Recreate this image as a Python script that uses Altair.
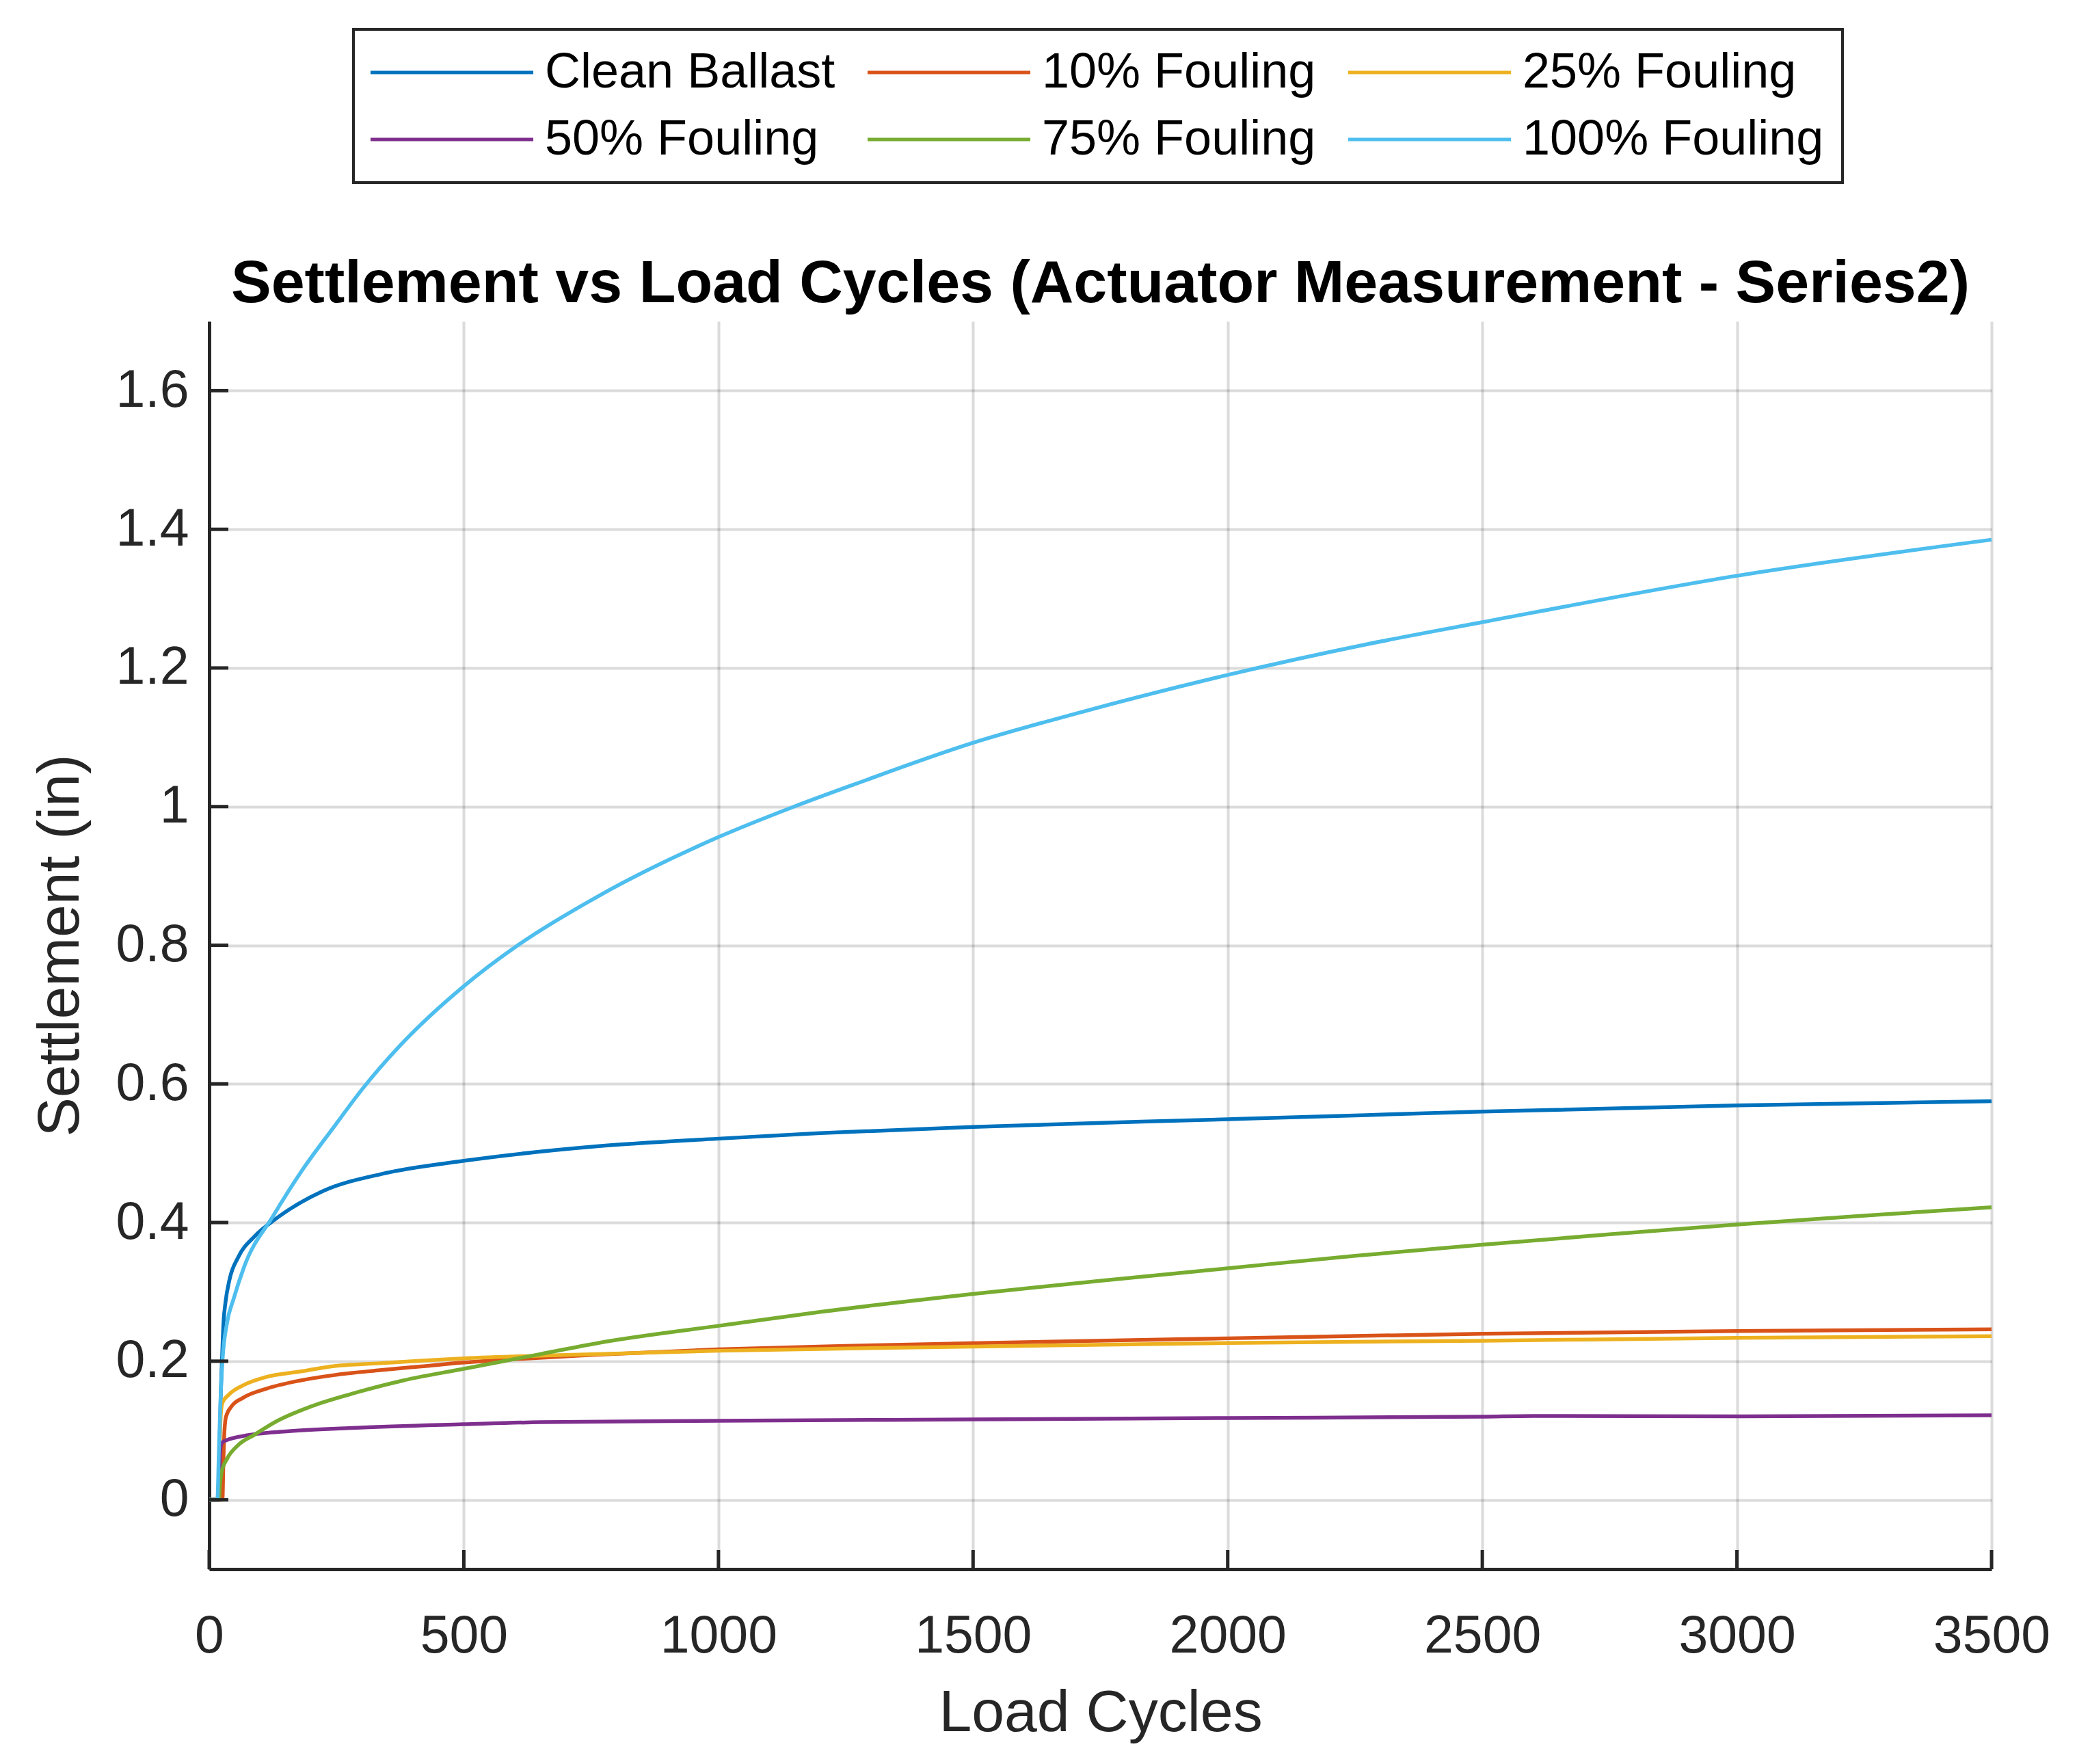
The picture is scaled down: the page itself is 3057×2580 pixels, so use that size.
import altair as alt
import pandas as pd

series_names = ["Clean Ballast", "10% Fouling", "25% Fouling", "50% Fouling", "75% Fouling", "100% Fouling"]
colors = ["#0072BD", "#D95319", "#EDB120", "#7E2F8E", "#77AC30", "#4DBEEE"]

clean_x = [0, 18, 21, 23, 25, 28, 32, 40, 57, 89, 130, 222, 338, 500, 762, 1000, 1200, 1500, 2000, 2272, 2500, 3000, 3500]
clean_y = [0, 0, 0.10, 0.16, 0.20, 0.255, 0.285, 0.318, 0.35, 0.38, 0.405, 0.445, 0.470, 0.489, 0.510, 0.521, 0.529, 0.538, 0.549, 0.555, 0.560, 0.569, 0.575]

f10_x = [0, 26, 28, 30, 33, 44, 66, 111, 178, 246, 335, 425, 500, 604, 750, 1000, 1250, 1500, 2000, 2500, 3000, 3500]
f10_y = [0, 0, 0.06, 0.10, 0.12, 0.135, 0.147, 0.16, 0.172, 0.18, 0.187, 0.193, 0.198, 0.203, 0.209, 0.217, 0.222, 0.226, 0.233, 0.2395, 0.2434, 0.246]

f25_x = [0, 19, 21, 23, 26, 39, 66, 111, 178, 246, 335, 425, 500, 650, 800, 1000, 1500, 2000, 2500, 3000, 3500]
f25_y = [0, 0, 0.09, 0.125, 0.14, 0.152, 0.165, 0.177, 0.185, 0.193, 0.197, 0.201, 0.204, 0.208, 0.211, 0.215, 0.221, 0.2262, 0.2295, 0.2336, 0.236]

f50_x = [0, 19, 21, 23, 28, 66, 156, 290, 500, 650, 1000, 1500, 2000, 2500, 2600, 3000, 3500]
f50_y = [0, 0, 0.06, 0.079, 0.084, 0.092, 0.099, 0.104, 0.109, 0.112, 0.114, 0.116, 0.118, 0.12, 0.121, 0.1205, 0.122]

f75_x = [0, 19, 21, 24, 35, 57, 89, 134, 201, 290, 380, 500, 649, 762, 1000, 1200, 1500, 1750, 2000, 2250, 2500, 2750, 3000, 3250, 3500]
f75_y = [0, 0, 0.02, 0.039, 0.059, 0.079, 0.094, 0.114, 0.135, 0.155, 0.172, 0.189, 0.21, 0.226, 0.251, 0.271, 0.297, 0.316, 0.334, 0.352, 0.368, 0.383, 0.397, 0.41, 0.422]

f100_x = [0, 16, 19, 22, 26, 35, 48, 68, 126, 184, 245, 299, 377, 500, 608, 762, 1000, 1145, 1274, 1500, 1701, 2000, 2272, 2500, 3000, 3500]
f100_y = [0, 0, 0.07, 0.14, 0.20, 0.255, 0.29, 0.335, 0.41, 0.477, 0.538, 0.591, 0.657, 0.741, 0.801, 0.870, 0.956, 0.999, 1.034, 1.092, 1.134, 1.190, 1.234, 1.266, 1.333, 1.385]

x_ticks = [0, 500, 1000, 1500, 2000, 2500, 3000, 3500]
y_ticks = [0, 0.2, 0.4, 0.6, 0.8, 1.0, 1.2, 1.4, 1.6]

all_x = [clean_x, f10_x, f25_x, f50_x, f75_x, f100_x]
all_y = [clean_y, f10_y, f25_y, f50_y, f75_y, f100_y]

rows = []
for name, xs, ys in zip(series_names, all_x, all_y):
    for i, (xv, yv) in enumerate(zip(xs, ys)):
        rows.append({"series": name, "cycles": xv, "settlement": yv, "idx": i})
df = pd.DataFrame(rows)

W, H = 2607, 1825
FONT = "Liberation Sans"
TXT = "#262626"

xscale = alt.Scale(domain=[0, 3500], nice=False, zero=False)
yscale = alt.Scale(domain=[-0.1, 1.7], nice=False, zero=False)

lines = alt.Chart(df).mark_line(strokeWidth=5.5, interpolate="monotone").encode(
    x=alt.X("cycles:Q", scale=xscale,
            axis=alt.Axis(values=x_ticks, format="d", title="Load Cycles",
                          titleX=W / 2, titleY=210, titleBaseline="middle",
                          labelPadding=60, labelFlush=False)),
    y=alt.Y("settlement:Q", scale=yscale,
            axis=alt.Axis(values=y_ticks, format="~g", title="Settlement (in)",
                          titleX=-218, titleY=H / 2, titleBaseline="middle",
                          titleAngle=270, labelPadding=30)),
    color=alt.Color("series:N",
                    scale=alt.Scale(domain=series_names, range=colors),
                    legend=alt.Legend(title=None, orient="none", direction="horizontal",
                                      columns=3, legendX=211, legendY=-427,
                                      symbolType="M-3.17,0H16.67", symbolSize=576,
                                      symbolStrokeWidth=5, symbolFillColor="transparent",
                                      labelOffset=181, labelFontSize=72, labelFont=FONT,
                                      labelColor="black", columnPadding=36, rowPadding=26,
                                      padding=27, strokeColor=TXT, fillColor="white",
                                      labelLimit=0)),
    order="idx:Q",
)

ytick_df = pd.DataFrame({"settlement": y_ticks})
xtick_df = pd.DataFrame({"cycles": x_ticks})

yticks = alt.Chart(ytick_df).mark_rule(color=TXT, strokeWidth=5).encode(
    y=alt.Y("settlement:Q", scale=yscale), x=alt.value(0), x2=alt.value(28))
xticks = alt.Chart(xtick_df).mark_rule(color=TXT, strokeWidth=5).encode(
    x=alt.X("cycles:Q", scale=xscale), y=alt.value(H), y2=alt.value(H - 28))

chart = alt.layer(lines, yticks, xticks).properties(
    width=W, height=H,
    title=alt.TitleParams("Settlement vs Load Cycles (Actuator Measurement - Series2)",
                          fontSize=88, fontWeight="bold", font=FONT, color="black",
                          anchor="middle", offset=11, dy=430),
    autosize=alt.AutoSizeParams(type="none"),
    padding={"left": 298, "top": 462, "right": 130, "bottom": 270},
).configure_view(stroke=None).configure_axis(
    labelFont=FONT, labelFontSize=77, labelColor=TXT,
    titleFont=FONT, titleFontSize=86, titleFontWeight="normal", titleColor=TXT,
    domainColor=TXT, domainWidth=5, ticks=False,
    grid=True, gridColor="#000000", gridOpacity=0.14, gridWidth=4,
).configure_legend(strokeWidth=4)

chart.save("out.html", embed_options={"renderer": "svg", "actions": False})
